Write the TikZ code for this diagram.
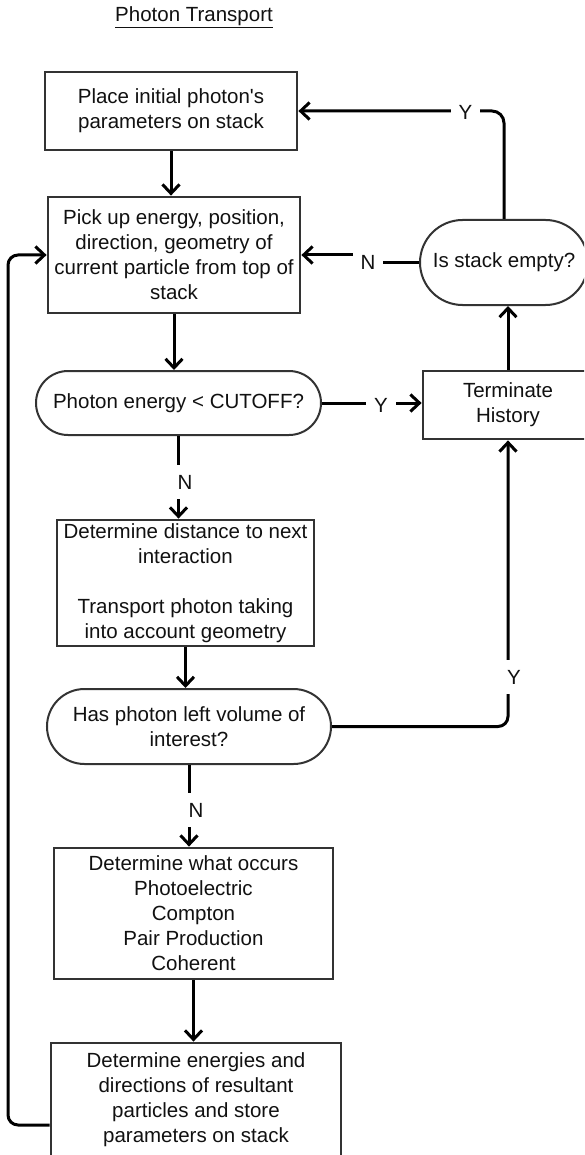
\documentclass[tikz,border=0pt]{standalone}
\usepackage{fontspec}
\setmainfont{Liberation Sans}
\usetikzlibrary{arrows.meta}
\definecolor{frame}{HTML}{333333}
\definecolor{ink}{HTML}{111111}

\begin{document}
\begin{tikzpicture}[x=1pt, y=-1pt,
  every node/.style={font=\fontsize{20.5}{25}\selectfont, text=ink, align=center, inner sep=0pt},
  procbox/.style={draw=frame, line width=2.8pt, fill=white, rectangle},
  decision/.style={draw=frame, line width=2pt, fill=white, rectangle},
  flow/.style={draw=black, line width=3pt, -{Straight Barb[length=9pt, width=17pt]}},
  lbl/.style={fill=white, inner xsep=8pt, inner ysep=10pt}]

  \useasboundingbox (0,0) rectangle (584,1155);
  \clip (0,0) rectangle (584,1155);

  % title
  \node (title) at (194,17) {\underline{Photon Transport}};

  % process boxes
  \node[procbox, minimum width=252pt, minimum height=78pt] (box1) at (171,111)
    {Place initial photon\textquotesingle s\\parameters on stack};
  \node[procbox, minimum width=252pt, minimum height=116pt] (box2) at (174,255)
    {Pick up energy, position,\\direction, geometry of\\current particle from top of\\stack};
  \node[procbox, minimum width=257pt, minimum height=126pt] (box3) at (185.5,583)
    {Determine distance to next\\interaction\\[25pt]Transport photon taking\\into account geometry};
  \node[procbox, minimum width=279pt, minimum height=131pt] (box4) at (193.5,913.5)
    {Determine what occurs\\Photoelectric\\Compton\\Pair Production\\Coherent};
  \node[procbox, minimum width=290pt, minimum height=114pt] (box5) at (196,1100)
    {Determine energies and\\directions of resultant\\particles and store\\parameters on stack};
  \node[procbox, minimum width=170pt, minimum height=68pt] (term) at (508,405)
    {Terminate\\History};

  % decisions (stadium outlines)
  \node[decision, rounded corners=32pt, minimum width=285pt, minimum height=64pt] (dec1) at (178.5,403)
    {Photon energy < CUTOFF?};
  \node[decision, rounded corners=37.5pt, minimum width=284pt, minimum height=75pt] (dec2) at (189,726.5)
    {Has photon left volume of\\interest?};
  \node[decision, rounded corners=42.5pt, minimum width=168pt, minimum height=85pt] (empty) at (504,262.5)
    {Is stack empty?};

  % straight downward flow
  \draw[flow] (box1.south) -- (box1.south |- box2.north);
  \draw[flow] (box2.south) -- (box2.south |- dec1.north);
  \draw[flow] (box3.south) -- (box3.south |- dec2.north);
  \draw[flow] (box4.south) -- (box4.south |- box5.north);

  % decision branches
  \draw[flow] (dec1.south) -- (dec1.south |- box3.north);
  \node[lbl] (n1) at (185,482) {N};

  \draw[flow] (dec2.south) -- (dec2.south |- box4.north);
  \node[lbl] (n2) at (196,810) {N};

  \draw[flow] (dec1.east) -- (dec1.east -| term.west);
  \node[lbl] (y1) at (381,405) {Y};

  \draw[flow, rounded corners=10pt] (dec2.east) -| (term.south);
  \node[lbl] (y2) at (514,677) {Y};

  \draw[flow] (term.north) -- (term.north |- empty.south);

  \draw[flow] (empty.west) -- ++(-52,0) |- (box2.east);
  \node[lbl] (n3) at (368,262) {N};

  \draw[flow, rounded corners=12pt] (empty.north) |- (box1.east);
  \node[lbl] (y3) at (465.5,112) {Y};

  % return loop from the last step back to the stack read
  \coordinate (loopy) at (0,1125);
  \coordinate (loopcorner) at (8,255);
  \draw[flow, rounded corners=10pt] (box5.west |- loopy) -| (loopcorner) -- (box2.west);
\end{tikzpicture}
\end{document}
